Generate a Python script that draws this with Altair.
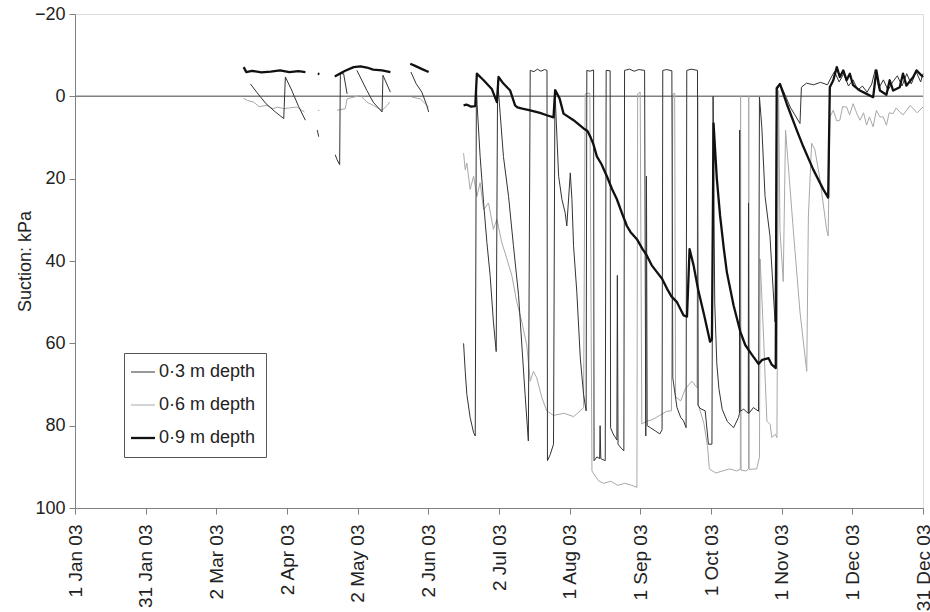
import altair as alt
import pandas as pd

# x = days since 1 Jan 2003, y = suction in kPa ; None marks a gap in the record
SERIES = ["0·3 m depth", "0·6 m depth", "0·9 m depth"]
COLORS = ["#333333", "#a8a8a8", "#111111"]
WIDTHS = [1.0, 1.0, 2.3]

TICK_LABELS = ["1 Jan 03", "31 Jan 03", "2 Mar 03", "2 Apr 03", "2 May 03", "2 Jun 03",
               "2 Jul 03", "1 Aug 03", "1 Sep 03", "1 Oct 03", "1 Nov 03", "1 Dec 03", "31 Dec 03"]
Y_TICKS = [-20, 0, 20, 40, 60, 80, 100]

D03 = [
    (75.3, -3.0), (78, -1.0), (82, 1.8), (86, 3.8), (89.6, 5.4), (90.3, -4.7), (93, -1.5), (96, 2.5), (98.9, 5.8),
    None,
    (104.0, 8.2), (104.6, 9.8),
    None,
    (111.7, 14.2), (112.5, 15.4), (113.6, 16.6), (113.9, -5.5), (115.3, -5.5), (116.8, -0.6),
    None,
    (121, -6.3), (125.3, -1.4), (128, 1.4), (131.8, 3.8), (132.2, -5.1), (135.4, -1.0),
    None,
    (144.2, -5.9), (146.4, -3.1), (148.9, -1.0), (151, 2.2), (151.8, 3.8),
    None,
    (166.8, 60), (167.5, 66.8), (168.2, 72.4), (169.6, 78), (171.1, 81.7), (171.8, 82.5),
    (172.3, -2.5), (172.6, 2), (173.9, 14.6), (175.4, 25.9), (176.8, 35.5), (178.2, 43.5), (179.6, 54.8), (180.8, 62),
    (181.4, -3.9), (182.5, 4.2), (183.9, 14.6), (186.1, 24.3), (188.2, 36.3), (190.4, 48.3), (191.8, 60.4),
    (193.2, 72.4), (194.6, 83.7),
    (195.4, -6.3), (197, -6.0), (198.5, -6.6), (200, -6.1), (201.5, -6.5), (202.6, -6.3),
    (202.8, 88.5), (204, 87), (205.4, 84.5),
    (206, -1.5), (207.6, 19.4), (209, 25), (210.4, 28.3), (211.1, 31.5), (212.6, 18.6), (213.3, 25), (214, 36.3),
    (215.4, 47.5), (216.9, 63.6), (218.3, 72.4), (219.4, 76.4),
    (219.7, -6.3), (221, -6.1), (222.6, -6.4),
    (222.8, 88.5), (224, 87.6), (225.2, 88), (225.4, 80), (225.7, 88), (227.6, 88.5),
    (228, -6.3), (229.7, -6.2),
    (229.9, 80.5), (231, 82), (232.6, 83.5), (232.8, 43.5), (233.1, 84.5), (234.5, 85.5), (235.6, 86.1),
    (235.9, -6.3), (238, -6.6), (240, -6.1), (242, -6.5), (244.5, -6.3),
    (245.0, 82.5), (245.3, 19.4), (245.6, 80), (247, 80.5), (249.2, 81.3), (251, 82), (252, 81),
    (252.3, -6.3), (254, -6.5), (256.2, -6.2),
    (256.6, 68.4), (258.4, 75.6), (260, 78), (261.2, 78.8), (262.3, 80.5),
    (262.6, -6.3), (264.5, -6.6), (267.2, -6.3),
    (267.4, 75), (268.3, 75.8), (270.5, 76.4), (271.9, 84.5), (273.4, 84.5),
    (273.9, 0), (274.6, 50), (275.5, 65), (276.4, 71), (277.8, 76), (280, 79), (282.7, 80.5), (284.8, 78),
    (285.2, 77), (285.3, 8.2), (285.5, 76.5), (287, 76), (289, 77), (289.1, 25.9), (289.3, 77),
    (291.2, 75.6), (293.4, 76.5),
    (293.8, 0.2), (294.8, 7.4), (296.2, 24.3), (298.3, 33.9), (300.5, 54.8),
    (301.2, -1.4), (302.6, -3), (304, -1.4), (307, 2.6), (309, 4.5), (311.2, 6.6),
    (311.8, -2.2), (314, -3.2), (317, -2.8), (320, -3.4), (323, -2.8),
    (324.5, -4.5), (326, -6), (328, -3.5), (330, -5.5), (332, -2.5), (334, -4), (336, -1.5), (338, -2.5),
    (340, -1), (342, -3), (343.5, -6.5), (345, -2), (347, -4), (349, -1.5), (351, -3.5), (353, -5),
    (355, -2.5), (357, -5.5), (359, -3), (361, -6), (363, -3.5), (364, -5.5),
]

D06 = [
    (72.4, 0.5), (74, 1.0), (76.7, 1.4), (79, 2.5), (82.4, 2.2), (85, 3.0), (87, 2.6), (89.6, 3.0), (92, 2.8),
    (95.3, 2.6), (97.4, 3.4), (98.5, 3.8),
    None,
    (104.3, 3.4), (104.9, 3.4),
    None,
    (112.5, 3.4), (116, 3.0), (116.8, 0.6), (119.6, 0.2), (122.5, -0.2), (125.3, 1.4), (128, 2.2), (131.8, 3.4),
    (134, 2.2), (135.1, 1.4),
    None,
    (144.6, 0.2), (148.2, 0.6), (151.8, 2.6),
    None,
    (166.8, 13.8), (167.5, 17.8), (168.2, 16.2), (169.6, 22.6), (171.1, 19.4), (172.5, 24.3), (173.9, 21.0),
    (175.4, 27.5), (177.5, 25.9), (179.6, 32.3), (181.1, 29.9), (183.2, 35.5), (185.4, 39.5), (187.5, 43.5),
    (189.6, 49.9), (191.8, 54.8), (193.9, 60.4), (195.4, 69.2), (196.8, 66.8), (198.2, 68.4), (200.4, 73.2),
    (202.5, 76.4), (205.4, 77.5), (210, 77), (214, 77.8), (216.9, 76.4), (218.3, 75.6),
    (219, -0.6), (221, -0.8),
    (221.9, 91), (223, 92), (225, 93.5), (227, 94), (230, 93.5), (233, 94.5), (236, 94), (239, 94.5), (241.2, 95),
    (241.5, -0.6), (242.6, -1),
    (243.3, 79.6), (245, 79), (248, 78.5), (251, 77.5), (254, 76.5), (256, 76.4),
    (256.6, -0.5), (257.4, -0.8),
    (257.8, 73), (260, 74), (262, 71), (264.8, 69.2), (267, 70.8),
    (267.3, 0), (267.6, 75), (268.4, 76.5), (270, 79.6), (271.5, 85), (272.3, 90.5), (275, 91.5), (278, 91),
    (281, 90.5), (284, 91), (285.6, 90.6), (285.7, 0), (285.9, 90.8), (288, 91), (289.1, 90.5), (289.2, 0),
    (289.4, 90.6), (292.6, 90.5), (293.8, 87.7),
    (294.1, 39.5), (295.6, 58.8), (296.3, 69.2), (297, 78.9), (298.4, 79.7), (299.1, 82.9), (300.6, 82.1),
    (301.3, 82.9),
    (302, -1.4), (302.6, 32.3), (304, 45), (305, 8.2), (308.3, 32.3), (311.2, 52.4), (314.1, 66.8),
    (314.8, 29.1), (316.2, 11.4), (317.6, 13), (319.8, 20.2), (322.6, 32.3), (323.3, 33.9),
    (324, 5), (325.5, 3.4), (327, 6), (328.3, 5.8), (329.5, 2.5), (331.2, 2.6), (332.5, 4.5), (334, 1.8),
    (335.5, 4), (336.9, 5.8), (338.5, 4), (339.8, 7), (341, 5), (342.6, 7.4), (344, 3.4), (345.5, 5),
    (346.9, 5), (348.3, 7), (349.5, 4), (351.2, 4.2), (352.5, 2.8), (354, 3.8), (355.5, 4.5), (356.9, 3.4),
    (358.5, 2.2), (359.8, 3), (361.5, 4), (364, 2.6),
]

D09 = [
    (72.4, -7.1), (73.5, -5.9), (76, -6.2), (80, -5.8), (84, -6.0), (88, -6.3), (92, -5.9), (96, -6.1), (98.9, -5.9),
    None,
    (104.2, -5.5), (104.9, -5.4),
    None,
    (111.5, -4.8), (114, -5.6), (116, -6.2), (119.6, -7.1), (122.5, -7.3), (125.3, -7.0), (128, -6.5),
    (131.8, -6.3), (135.4, -5.9),
    None,
    (143.9, -7.9), (146, -7.4), (149, -6.6), (151.8, -5.9),
    None,
    (166.8, 2.2), (168, 2.0), (170, 2.5), (171.8, 2.4), (172.5, -5.5), (175.4, -3.9), (178.9, -1.8), (181.1, 1.4),
    (181.8, -4.7), (183.9, -3.1), (186.8, -1.4), (188.9, 2.2), (189.9, 2.7), (192, 3.0), (195.4, 3.4),
    (199.6, 4.0), (202.5, 4.6), (205.4, 5.1), (206.1, -1.5), (208, 0.5), (209.7, 4.2), (214, 5.8), (218.3, 7.8),
    (220, 8.4), (221.2, 9.8), (222.5, 11.6), (224, 14.6), (226, 16.5), (228.3, 19.4), (230.5, 22.5),
    (232.6, 25.0), (234.8, 28.4), (236.9, 31.5), (238.5, 33), (241.2, 34.7), (243.5, 37.0), (245.5, 38.7),
    (247.5, 41.0), (249.8, 42.7), (252, 44.3), (254.1, 46.7), (256, 48.6), (258.4, 50), (261.2, 53.2),
    (262.7, 53.5),
    (263.8, 37.1), (265.5, 41), (267.5, 47), (270, 53), (272.6, 59.6), (273.4, 59),
    (274.1, 6.6), (275.5, 20), (276.9, 29), (278.5, 37), (279.8, 42.7), (282.7, 50.8), (285.6, 57.2),
    (287.7, 60.4), (290.6, 62.8), (293.4, 65), (295, 64), (297.7, 63.6), (299.1, 65.2), (300.8, 66),
    (301.2, -2), (302.6, -3), (305.5, 1.8), (309.8, 8.2), (312.6, 12.2), (316.9, 17.8), (321.2, 22.6),
    (323.3, 24.6),
    (324, -2.2), (325.5, -3.9), (327, -7.1), (328.3, -4.7), (329.8, -6.3), (331.2, -3.9), (332.6, -5.5),
    (334, -2.7), (336.9, -1.4), (339.8, -0.6), (342.6, 0.2), (344, -6.3), (345.5, -1.4), (348.3, -0.4),
    (349.7, -3.9), (351.2, -1.4), (354, -2.2), (355.4, -5.5), (356.9, -2.6), (359.8, -4.7), (361.2, -6.3),
    (364, -4.7),
]


def to_rows(points, name):
    rows, seg = [], 0
    for p in points:
        if p is None:
            seg += 1
            continue
        rows.append({"day": p[0], "kpa": p[1], "series": name, "seg": f"{name}-{seg}", "i": len(rows)})
    return rows


frames = {name: pd.DataFrame(to_rows(pts, name)) for name, pts in zip(SERIES, [D03, D06, D09])}
widths = dict(zip(SERIES, WIDTHS))

n_int = len(TICK_LABELS) - 1
tick_step = 364 / n_int
x_ticks = [round(k * tick_step, 4) for k in range(n_int + 1)]
label_expr = "[" + ",".join(f"'{t}'" for t in TICK_LABELS) + f"][round(datum.value / {tick_step})]"

FONT = "Liberation Sans"

x_enc = alt.X(
    "day:Q",
    scale=alt.Scale(domain=[0, 364], nice=False, zero=False),
    axis=alt.Axis(values=x_ticks, labelExpr=label_expr, labelAngle=270, labelFontSize=19,
                  labelFont=FONT, labelColor="#222222", tickSize=6, tickColor="#808080",
                  domainColor="#808080", grid=False, title=None, labelPadding=10,
                  labelOverlap=False, labelFlush=False, labelBound=False),
)
y_enc = alt.Y(
    "kpa:Q",
    scale=alt.Scale(domain=[-20, 100], reverse=True, nice=False, zero=False),
    axis=alt.Axis(values=Y_TICKS, title="Suction: kPa", titleFontSize=18, titleFont=FONT,
                  titleFontWeight="normal", titleColor="#222222", labelFontSize=18, labelFont=FONT,
                  labelColor="#222222", tickSize=6, tickColor="#808080", domainColor="#808080",
                  grid=False, titlePadding=0, labelPadding=4),
)

thick_name = SERIES[2]
legend = alt.Legend(
    orient="none", legendX=49, legendY=339, title=None, symbolType="stroke",
    symbolSize=576, labelFontSize=18, labelFont=FONT, labelColor="#222222",
    strokeColor="#555555", padding=10, rowPadding=15, labelOffset=7, fillColor="white",
    symbolStrokeWidth=alt.ExprRef(expr=f"datum.value === '{thick_name}' ? {WIDTHS[2]} : 1"),
)

color_enc = alt.Color("series:N", scale=alt.Scale(domain=SERIES, range=COLORS), legend=legend)

zero_df = pd.DataFrame({"kpa": [0]})
zero = alt.Chart(zero_df).mark_rule(color="#808080", strokeWidth=1.5).encode(y=alt.Y("kpa:Q"))

layers = [zero]
for name in ["0·6 m depth", "0·3 m depth", "0·9 m depth"]:
    layers.append(
        alt.Chart(frames[name]).mark_line(interpolate="linear", strokeWidth=widths[name],
                                          strokeJoin="round").encode(
            x=x_enc, y=y_enc, color=color_enc,
            detail="seg:N", order="i:Q",
        )
    )

chart = alt.layer(*layers).properties(
    width=848, height=494,
    padding={"left": 75, "top": 14, "right": 7, "bottom": 104},
    autosize=alt.AutoSizeParams(type="none"),
).configure_view(stroke=None).configure(font=FONT)

chart.save("out.html", embed_options={"renderer": "svg", "actions": False})
